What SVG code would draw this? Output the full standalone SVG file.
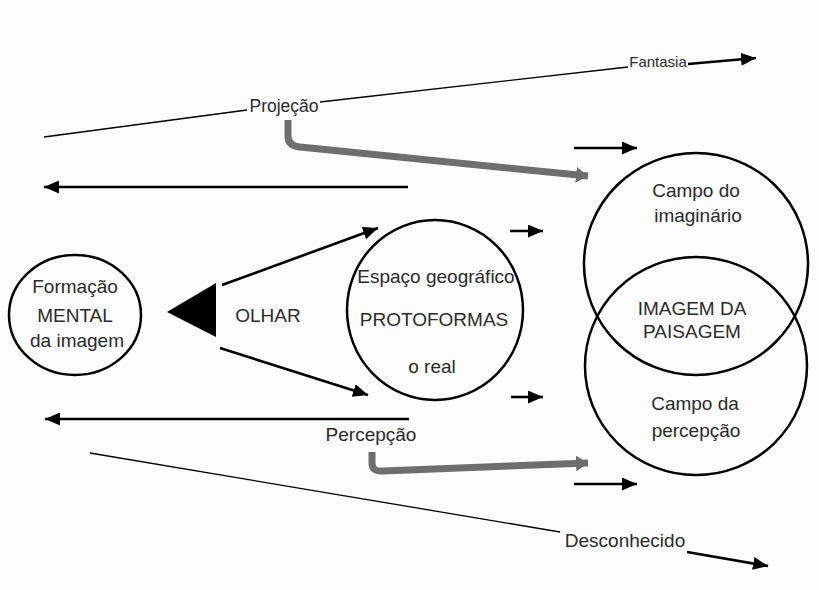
<svg xmlns="http://www.w3.org/2000/svg" width="819" height="590" viewBox="0 0 819 590">
  <style>
    text { font-family: "Liberation Sans", Arial, sans-serif; fill: #2b2b2b; text-anchor: middle; }
    .t18 { font-size: 19px; }
    .t17 { font-size: 17.5px; }
    .t15 { font-size: 15px; }
    .node { fill: none; stroke: #000; stroke-width: 2.5; }
    .thin { stroke: #000; stroke-width: 1.3; fill: none; }
    .arr { stroke: #000; stroke-width: 2.6; fill: none; marker-end: url(#ah); }
    .gray { stroke: #6e6e6e; stroke-width: 7; fill: none; stroke-linejoin: round; marker-end: url(#gh); }
  </style>
  <defs>
    <marker id="ah" viewBox="0 0 15 13" refX="15" refY="6.5" markerWidth="15" markerHeight="13" markerUnits="userSpaceOnUse" orient="auto">
      <path d="M0,0 L15,6.5 L0,13 z" fill="#000"/>
    </marker>
    <marker id="gh" viewBox="0 0 12 16" refX="12" refY="8" markerWidth="12" markerHeight="16" markerUnits="userSpaceOnUse" orient="auto">
      <path d="M0,0 L12,8 L0,16 z" fill="#6e6e6e"/>
    </marker>
  </defs>
  <rect width="819" height="590" fill="#fcfcfc"/>

  <g id="connectors">
    <!-- Projeção / Fantasia line -->
    <line class="thin" x1="44" y1="137" x2="247" y2="110"/>
    <line class="thin" x1="320" y1="102" x2="628" y2="67"/>
    <line class="arr" x1="688" y1="64" x2="756" y2="58"/>
    <!-- top gray arrow -->
    <path class="gray" d="M288,120 L288,136 Q288,146 300,147 L588,176"/>
    <!-- left arrows -->
    <line class="arr" x1="408" y1="187" x2="44" y2="187"/>
    <line class="arr" x1="409" y1="419" x2="45" y2="419"/>
    <!-- small right arrows -->
    <line class="arr" x1="574" y1="148" x2="637" y2="148"/>
    <line class="arr" x1="510" y1="231" x2="543" y2="231"/>
    <line class="arr" x1="511" y1="397" x2="543" y2="397"/>
    <line class="arr" x1="574" y1="484" x2="637" y2="484"/>
    <!-- OLHAR arrows -->
    <line class="arr" x1="222" y1="285" x2="378" y2="228"/>
    <line class="arr" x1="220" y1="348" x2="368" y2="395"/>
    <!-- bottom gray arrow -->
    <path class="gray" d="M372,452 L372,463 Q372,472 383,471 L588,463"/>
    <!-- Desconhecido line -->
    <line class="thin" x1="90" y1="453" x2="560" y2="532"/>
    <line class="arr" x1="687" y1="552" x2="768" y2="566"/>
  </g>

  <g id="labels">
    <text class="t17" x="284" y="112">Projeção</text>
    <text class="t15" x="658" y="67">Fantasia</text>
    <text class="t18" x="371" y="441">Percepção</text>
    <text class="t18" x="625" y="547">Desconhecido</text>
  </g>

  <g id="olhar">
    <polygon points="167,312 216,283 216,337" fill="#000"/>
    <text class="t18" x="268" y="322">OLHAR</text>
  </g>

  <g id="formacao">
    <ellipse class="node" cx="75" cy="315" rx="66" ry="60"/>
    <text class="t18" x="75" y="293">Formação</text>
    <text class="t18" x="75" y="322">MENTAL</text>
    <text class="t18" x="77" y="347">da imagem</text>
  </g>

  <g id="espaco">
    <ellipse class="node" cx="435" cy="310" rx="88" ry="90"/>
    <text class="t18" x="436" y="283">Espaço geográfico</text>
    <text class="t18" x="434" y="326">PROTOFORMAS</text>
    <text class="t18" x="432" y="373">o real</text>
  </g>

  <g id="imaginario">
    <ellipse class="node" cx="696" cy="264" rx="112" ry="111"/>
    <text class="t18" x="696" y="197">Campo do</text>
    <text class="t18" x="698" y="222">imaginário</text>
  </g>

  <g id="percepcao">
    <ellipse class="node" cx="696" cy="366" rx="111" ry="109"/>
    <text class="t18" x="695" y="410">Campo da</text>
    <text class="t18" x="696" y="437">percepção</text>
  </g>

  <g id="imagem">
    <text class="t18" x="692" y="315">IMAGEM DA</text>
    <text class="t18" x="692" y="338">PAISAGEM</text>
  </g>
</svg>
